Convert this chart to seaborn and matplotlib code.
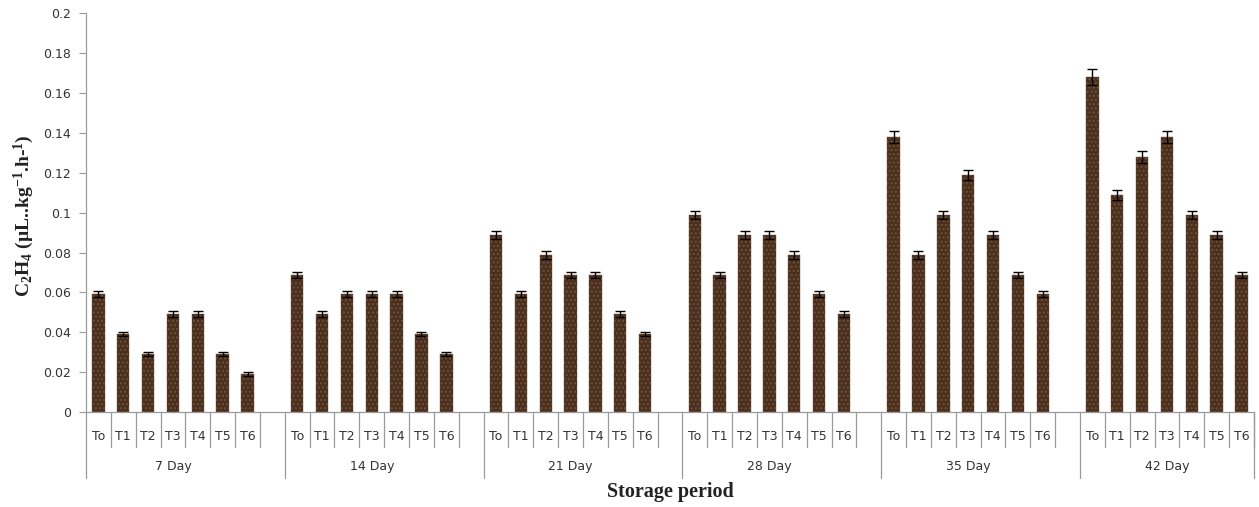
import pandas as pd
import matplotlib.pyplot as plt
import matplotlib.transforms as mtransforms
import seaborn as sns

## data
days = ['7 Day', '14 Day', '21 Day', '28 Day', '35 Day', '42 Day']
treatments = ['To', 'T1', 'T2', 'T3', 'T4', 'T5', 'T6']

day7 = [0.059, 0.039, 0.029, 0.049, 0.049, 0.029, 0.019]
day14 = [0.069, 0.049, 0.059, 0.059, 0.059, 0.039, 0.029]
day21 = [0.089, 0.059, 0.079, 0.069, 0.069, 0.049, 0.039]
day28 = [0.099, 0.069, 0.089, 0.089, 0.079, 0.059, 0.049]
day35 = [0.138, 0.079, 0.099, 0.119, 0.089, 0.069, 0.059]
day42 = [0.168, 0.109, 0.128, 0.138, 0.099, 0.089, 0.069]

err7 = [0.0015, 0.001, 0.001, 0.0015, 0.0015, 0.001, 0.001]
err14 = [0.0015, 0.0015, 0.0015, 0.0015, 0.0015, 0.001, 0.001]
err21 = [0.002, 0.0015, 0.002, 0.0015, 0.0015, 0.0015, 0.001]
err28 = [0.002, 0.0015, 0.002, 0.002, 0.002, 0.0015, 0.0015]
err35 = [0.003, 0.002, 0.002, 0.0025, 0.002, 0.0015, 0.0015]
err42 = [0.004, 0.0025, 0.003, 0.003, 0.002, 0.002, 0.0015]

values = [day7, day14, day21, day28, day35, day42]
errors = [err7, err14, err21, err28, err35, err42]

## long table + slot order (an empty slot after each group like in excel)
rows = []
order = []
for g, day in enumerate(days):
    for t, tr in enumerate(treatments):
        key = day + '|' + tr
        rows.append({'slot': key, 'value': values[g][t], 'err': errors[g][t]})
        order.append(key)
    if g < len(days) - 1:
        order.append('gap' + str(g))
df = pd.DataFrame(rows)

sns.set_style('white')
plt.rcParams['mathtext.fontset'] = 'custom'
plt.rcParams['mathtext.bf'] = 'Liberation Serif:bold'
plt.rcParams['mathtext.rm'] = 'Liberation Serif:bold'
plt.rcParams['mathtext.default'] = 'bf'

fig = plt.figure(figsize=(12.59, 5.07), dpi=100)
ax = fig.add_axes([0.0683, 0.187, 0.9277, 0.787])

sns.barplot(data=df, x='slot', y='value', order=order, color='#4a2f1f',
            width=0.5, errorbar=None, saturation=1, ax=ax,
            edgecolor='#6f5038', linewidth=0.3, hatch='....')

pos = [order.index(k) for k in df['slot']]
ax.errorbar(pos, df['value'], yerr=df['err'], fmt='none', ecolor='black',
            elinewidth=1, capsize=3.5, capthick=1)

## y axis
ax.set_ylim(0, 0.2)
yt = [i * 0.02 for i in range(11)]
ax.set_yticks(yt)
ax.set_yticklabels(['{:g}'.format(round(v, 2)) for v in yt], fontsize=9, color='#333333')
ax.tick_params(axis='y', length=5, width=0.8, color='#9a9a9a', direction='out', left=True, pad=6)
ax.set_xlim(-0.5, len(order) - 0.5)

for s in ['top', 'right']:
    ax.spines[s].set_visible(False)
for s in ['left', 'bottom']:
    ax.spines[s].set_color('#9a9a9a')
    ax.spines[s].set_linewidth(0.9)

## treatment labels
ax.set_xticks(pos)
ax.set_xticklabels([k.split('|')[1] for k in df['slot']], fontsize=9, color='#333333')
ax.tick_params(axis='x', length=0, pad=13)
ax.set_xlabel('')
ax.set_ylabel('')

## separators for the two label rows
trans = mtransforms.blended_transform_factory(ax.transData, ax.transAxes)
for g in range(len(days)):
    start = order.index(days[g] + '|To') - 0.5
    for t in range(1, 8):
        ax.plot([start + t, start + t], [0, -0.088], color='#9a9a9a', lw=0.9,
                transform=trans, clip_on=False)
    ax.plot([start, start], [0, -0.165], color='#9a9a9a', lw=0.9,
            transform=trans, clip_on=False)
    ax.text(start + 3.5, -0.137, days[g], transform=trans, ha='center', va='center',
            fontsize=9, color='#333333')
last = len(order) - 0.5
ax.plot([last, last], [0, -0.165], color='#9a9a9a', lw=0.9, transform=trans, clip_on=False)

## axis titles
ax.text(0.5, -0.2, 'Storage period', transform=ax.transAxes, ha='center', va='center',
        fontsize=14.5, fontweight='bold', family='Liberation Serif', color='#222222')
fig.text(0.019, 0.575, r'C$_2$H$_4$ (µL..kg$^{-1}$.h-$^{1}$)', rotation=90,
         ha='center', va='center', fontsize=14, fontweight='bold',
         family='Liberation Serif', color='#222222')

fig.savefig('out.png', dpi=100)
